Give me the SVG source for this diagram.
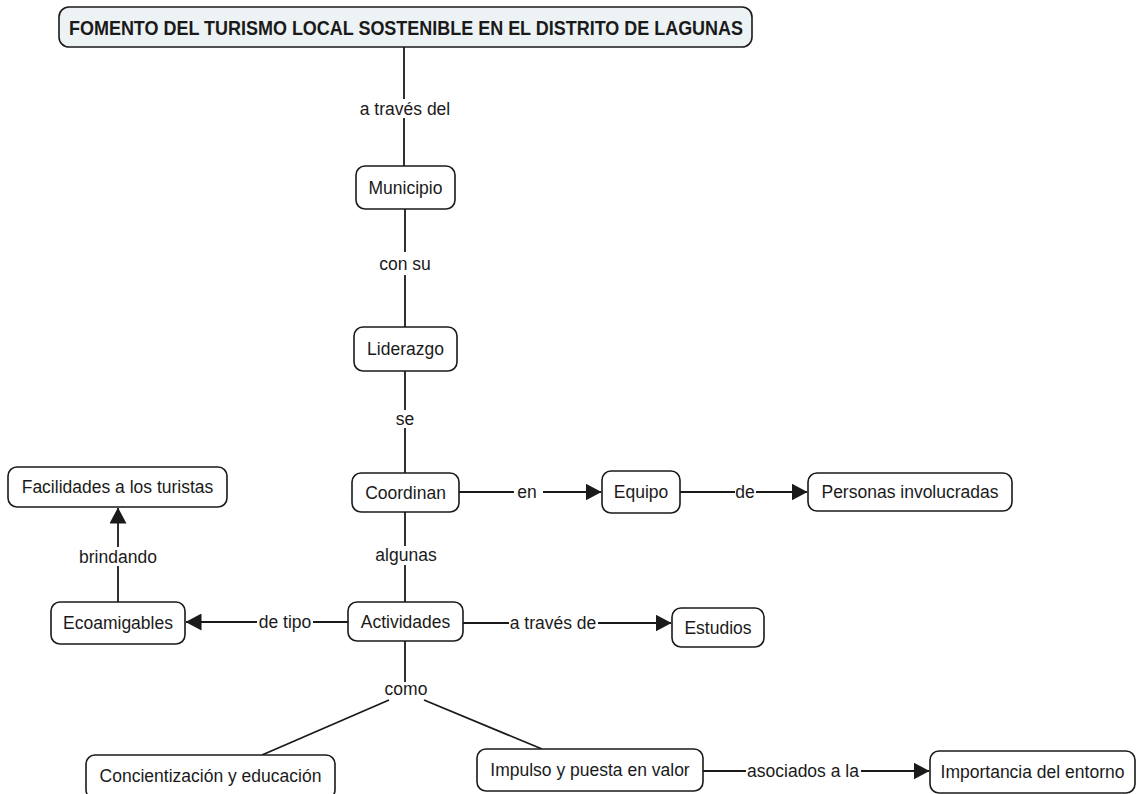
<svg xmlns="http://www.w3.org/2000/svg" width="1136" height="794" viewBox="0 0 1136 794">
<defs>
<style>
.box{fill:#fff;stroke:#1a1a1a;stroke-width:1.6}
.title{fill:#edf2f4;stroke:#1a1a1a;stroke-width:1.6}
.t{font-family:"Liberation Sans",Arial,sans-serif;font-size:17.5px;fill:#1a1a1a;text-anchor:middle}
.tb{font-family:"Liberation Sans",Arial,sans-serif;font-size:20px;font-weight:bold;fill:#1a1a1a;text-anchor:middle}
.ln{stroke:#1a1a1a;stroke-width:1.8;fill:none}
.ah{fill:#1a1a1a}
</style>
<marker id="arr" viewBox="0 0 16 17" refX="15.5" refY="8.5" markerWidth="16" markerHeight="17" markerUnits="userSpaceOnUse" orient="auto">
<path d="M0,0 L16,8.5 L0,17 Z" class="ah"/>
</marker>
</defs>
<rect width="1136" height="794" fill="#fff"/>

<g id="connectors">
<line class="ln" x1="404" y1="47" x2="404" y2="99"/>
<line class="ln" x1="404" y1="118" x2="404" y2="166"/>
<line class="ln" x1="405" y1="209" x2="405" y2="252"/>
<line class="ln" x1="405" y1="275" x2="405" y2="327"/>
<line class="ln" x1="405" y1="371" x2="405" y2="410"/>
<line class="ln" x1="405" y1="428" x2="405" y2="473"/>
<line class="ln" x1="405" y1="512" x2="405" y2="546"/>
<line class="ln" x1="405" y1="565" x2="405" y2="602"/>
<line class="ln" x1="459" y1="492" x2="514" y2="492"/>
<line class="ln" x1="543" y1="492" x2="601" y2="492" marker-end="url(#arr)"/>
<line class="ln" x1="680" y1="492" x2="735" y2="492"/>
<line class="ln" x1="756" y1="492" x2="807" y2="492" marker-end="url(#arr)"/>
<line class="ln" x1="463" y1="623" x2="509" y2="623"/>
<line class="ln" x1="598" y1="623" x2="671" y2="623" marker-end="url(#arr)"/>
<line class="ln" x1="348" y1="622" x2="313" y2="622"/>
<line class="ln" x1="257" y1="622" x2="186" y2="622" marker-end="url(#arr)"/>
<line class="ln" x1="118" y1="602" x2="118" y2="566"/>
<line class="ln" x1="118" y1="547" x2="118" y2="508" marker-end="url(#arr)"/>
<line class="ln" x1="405" y1="641" x2="405" y2="682"/>
<line class="ln" x1="389" y1="700" x2="262" y2="755"/>
<line class="ln" x1="424" y1="700" x2="542" y2="749"/>
<line class="ln" x1="703" y1="771" x2="746" y2="771"/>
<line class="ln" x1="861" y1="771" x2="929" y2="771" marker-end="url(#arr)"/>
<text class="t" x="405" y="115">a través del</text>
<text class="t" x="405" y="270">con su</text>
<text class="t" x="405" y="425">se</text>
<text class="t" x="406" y="561">algunas</text>
<text class="t" x="527" y="498">en</text>
<text class="t" x="745" y="498">de</text>
<text class="t" x="553" y="629">a través de</text>
<text class="t" x="285" y="628">de tipo</text>
<text class="t" x="118" y="563">brindando</text>
<text class="t" x="406" y="695">como</text>
<text class="t" x="803" y="777">asociados a la</text>
</g>

<g id="n-title">
<rect class="title" x="59" y="7" width="693" height="40" rx="10"/>
<text class="tb" x="406" y="35" textLength="674" lengthAdjust="spacingAndGlyphs">FOMENTO DEL TURISMO LOCAL SOSTENIBLE EN EL DISTRITO DE LAGUNAS</text>
</g>
<g id="n-municipio">
<rect class="box" x="356" y="166" width="99" height="43" rx="9"/>
<text class="t" x="405.5" y="194">Municipio</text>
</g>
<g id="n-liderazgo">
<rect class="box" x="354" y="327" width="103" height="44" rx="9"/>
<text class="t" x="405.5" y="355">Liderazgo</text>
</g>
<g id="n-coordinan">
<rect class="box" x="352" y="473" width="107" height="39" rx="9"/>
<text class="t" x="405.5" y="499">Coordinan</text>
</g>
<g id="n-equipo">
<rect class="box" x="602" y="471" width="78" height="42" rx="9"/>
<text class="t" x="641" y="498">Equipo</text>
</g>
<g id="n-personas">
<rect class="box" x="808" y="473" width="204" height="38" rx="9"/>
<text class="t" x="910" y="498">Personas involucradas</text>
</g>
<g id="n-facilidades">
<rect class="box" x="8" y="467" width="219" height="40" rx="9"/>
<text class="t" x="117.5" y="493">Facilidades a los turistas</text>
</g>
<g id="n-ecoamigables">
<rect class="box" x="51" y="602" width="134" height="42" rx="9"/>
<text class="t" x="118" y="629">Ecoamigables</text>
</g>
<g id="n-actividades">
<rect class="box" x="348" y="602" width="115" height="39" rx="9"/>
<text class="t" x="405.5" y="628">Actividades</text>
</g>
<g id="n-estudios">
<rect class="box" x="672" y="608" width="92" height="39" rx="9"/>
<text class="t" x="718" y="634">Estudios</text>
</g>
<g id="n-concientizacion">
<rect class="box" x="86" y="755" width="249" height="44" rx="9"/>
<text class="t" x="210.5" y="782">Concientización y educación</text>
</g>
<g id="n-impulso">
<rect class="box" x="477" y="749" width="226" height="42" rx="9"/>
<text class="t" x="590" y="776">Impulso y puesta en valor</text>
</g>
<g id="n-importancia">
<rect class="box" x="930" y="751" width="205" height="42" rx="9"/>
<text class="t" x="1032.5" y="778">Importancia del entorno</text>
</g>
</svg>
